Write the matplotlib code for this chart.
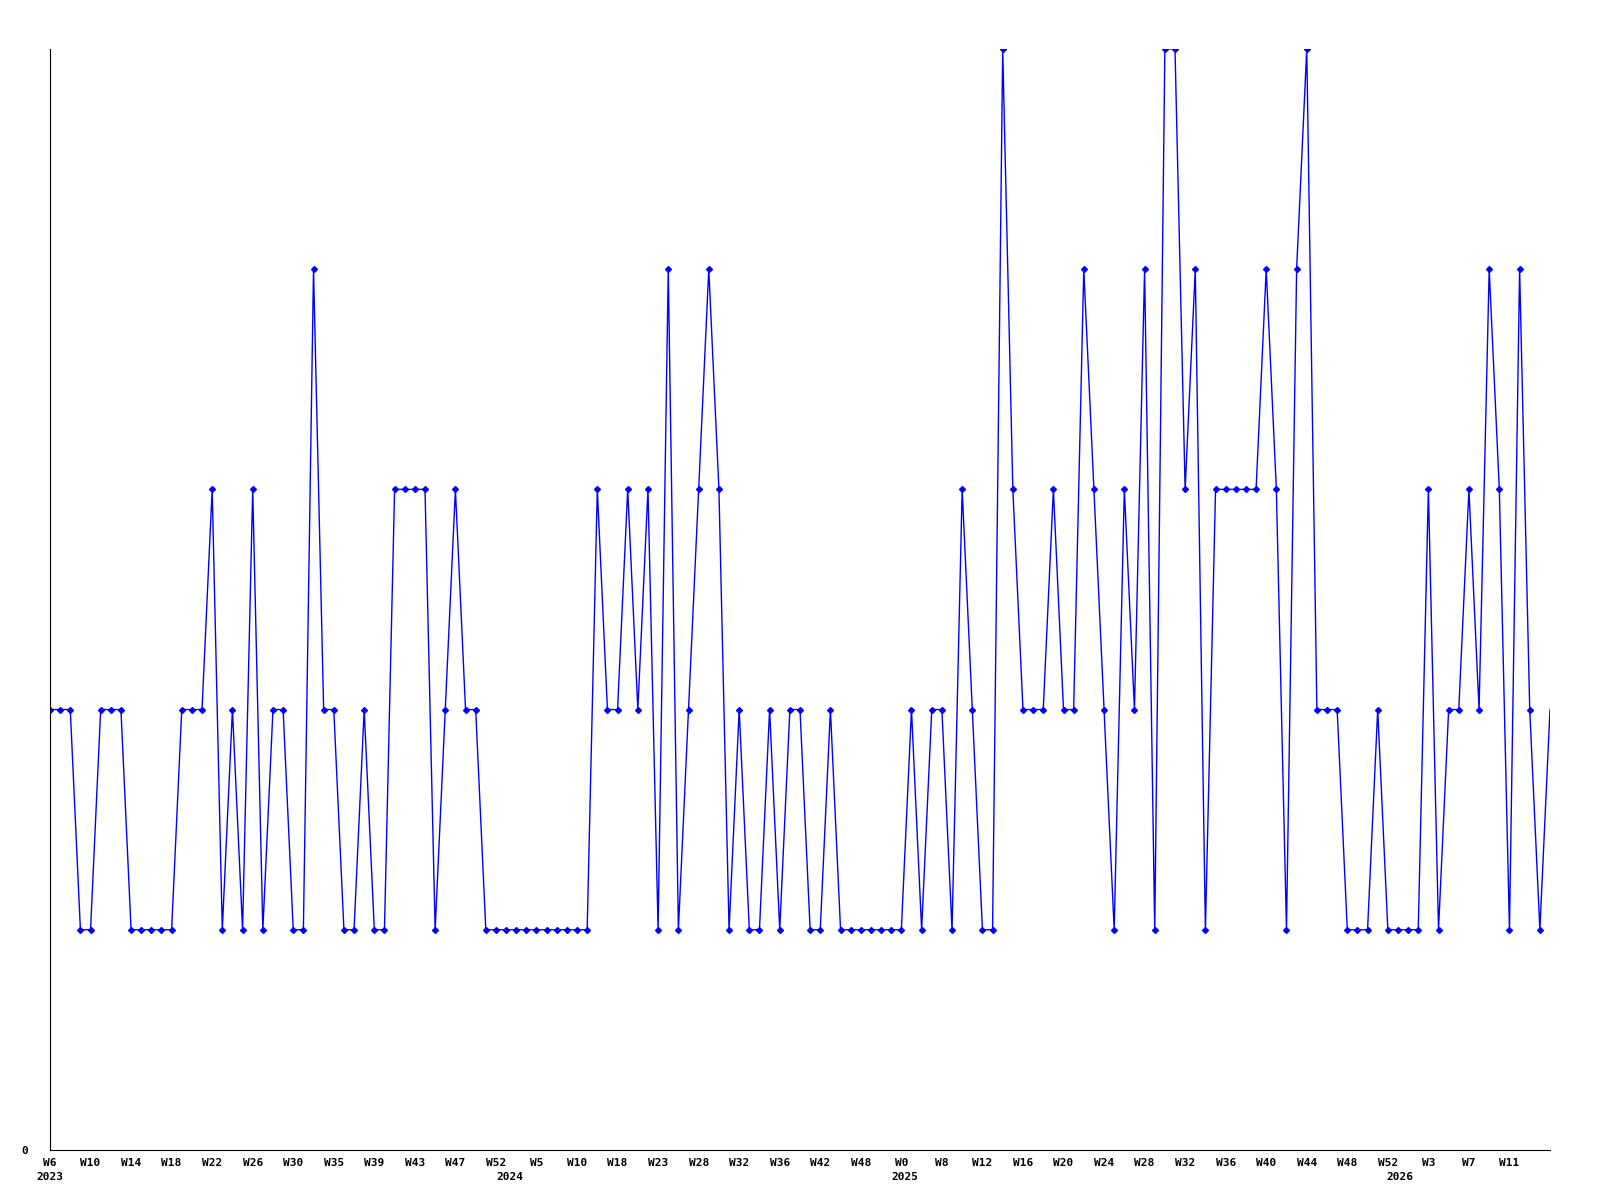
import matplotlib
matplotlib.use('Agg')
import matplotlib.pyplot as plt
import matplotlib.transforms as mtransforms

# valores semanales (nivel 0..5)
valores = [2, 2, 2, 1, 1, 2, 2, 2, 1, 1, 1, 1, 1, 2, 2, 2, 3, 1, 2, 1,
           3, 1, 2, 2, 1, 1, 4, 2, 2, 1, 1, 2, 1, 1, 3, 3, 3, 3, 1, 2,
           3, 2, 2, 1, 1, 1, 1, 1, 1, 1, 1, 1, 1, 1, 3, 2, 2, 3, 2, 3,
           1, 4, 1, 2, 3, 4, 3, 1, 2, 1, 1, 2, 1, 2, 2, 1, 1, 2, 1, 1,
           1, 1, 1, 1, 1, 2, 1, 2, 2, 1, 3, 2, 1, 1, 5, 3, 2, 2, 2, 3,
           2, 2, 4, 3, 2, 1, 3, 2, 4, 1, 5, 5, 3, 4, 1, 3, 3, 3, 3, 3,
           4, 3, 1, 4, 5, 2, 2, 2, 1, 1, 1, 2, 1, 1, 1, 1, 3, 1, 2, 2,
           3, 2, 4, 3, 1, 4, 2, 1, 2]

etiquetas_semana = ["W6", "W10", "W14", "W18", "W22", "W26", "W30", "W35", "W39",
                    "W43", "W47", "W52", "W5", "W10", "W18", "W23", "W28", "W32",
                    "W36", "W42", "W48", "W0", "W8", "W12", "W16", "W20", "W24",
                    "W28", "W32", "W36", "W40", "W44", "W48", "W52", "W3", "W7", "W11"]
paso_etiqueta = 4

anios = ["2023", "2024", "2025", "2026"]
pos_anios = [0, 45.4, 84.3, 133.2]

x = list(range(len(valores)))

fig = plt.figure(figsize=(16, 12), dpi=100)
ax = fig.add_axes([0.03125, 0.0417, 0.9375, 0.9175])

# la ultima semana va sin marcador
ax.plot(x, valores, color='#0000ff', lw=1.0, marker='D', markersize=3,
        markevery=slice(0, len(valores) - 1))

ax.set_xlim(0, len(valores) - 1)
ax.set_ylim(0, 5)

fuente = dict(family='DejaVu Sans Mono', fontweight='bold', fontsize=8)

ax.set_xticks([i * paso_etiqueta for i in range(len(etiquetas_semana))])
ax.set_xticklabels(etiquetas_semana, **fuente)
ax.set_yticks([0])
ax.set_yticklabels(["0"], **fuente)
ax.tick_params(axis='both', length=0)
ax.tick_params(axis='x', pad=6)
ax.tick_params(axis='y', pad=16)

for s in ['top', 'right']:
    ax.spines[s].set_visible(False)

trans = mtransforms.blended_transform_factory(ax.transData, fig.transFigure)
for a, p in zip(anios, pos_anios):
    ax.text(p, 1 - 1177 / 1200, a, transform=trans, ha='center', va='center',
            clip_on=False, **fuente)

fig.savefig('out.png', dpi=100)
